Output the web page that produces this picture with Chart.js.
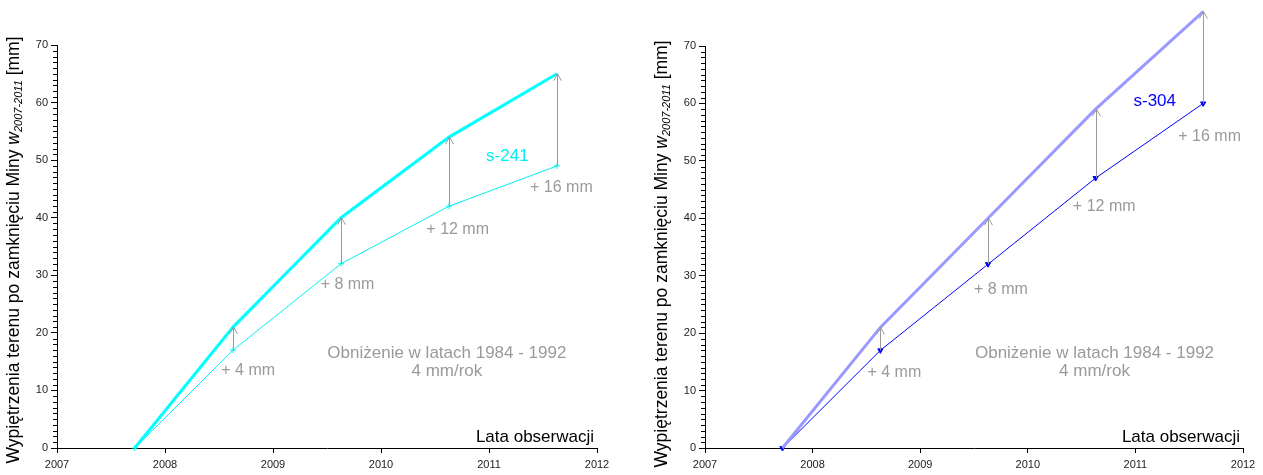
<!DOCTYPE html>
<html>
<head>
<meta charset="utf-8">
<script src="https://cdn.jsdelivr.net/npm/chart.js@4"></script>
<style>
  html, body { margin: 0; padding: 0; background: #fff; }
  #wrap { position: relative; width: 1263px; height: 475px; }
  canvas { position: absolute; top: 0; }
</style>
</head>
<body>
<div id="wrap">
  <canvas id="chart-s241" width="631" height="475" style="left:0"></canvas>
  <canvas id="chart-s304" width="632" height="475" style="left:631px"></canvas>
</div>
<script>
// observation dates (fractional years)
const obsYears = [2007.72, 2008.63, 2009.63, 2010.63, 2011.63];

// s-241: uplift incl. 4 mm/yr subsidence correction, and measured uplift
const s241Total = [0, 21, 40, 54, 65];
const s241Measured = [0, 17, 32, 42, 49];

// s-304
const s304Total = [0, 21, 40, 59, 76];
const s304Measured = [0, 17, 32, 47, 60];

const addedLabels = ['+ 4 mm', '+ 8 mm', '+ 12 mm', '+ 16 mm'];
const xTickYears = [2007, 2008, 2009, 2010, 2011, 2012];
const yMajorStep = 10;
const yMax = 70;

const FONT = '"Liberation Sans", Arial, sans-serif';
const GREY = '#9a9a9a';

function makeOverlay(cfg) {
  return {
    id: 'overlay',
    afterDraw(chart) {
      const ctx = chart.ctx;
      const xs = chart.scales.x;
      const ys = chart.scales.y;
      const area = chart.chartArea;
      ctx.save();

      // minor ticks on y axis
      ctx.strokeStyle = '#000';
      ctx.lineWidth = 1;
      for (let v = 1; v < yMax; v++) {
        if (v % yMajorStep === 0) continue;
        const py = Math.round(ys.getPixelForValue(v)) + 0.5;
        ctx.beginPath();
        ctx.moveTo(area.left - 4, py);
        ctx.lineTo(area.left, py);
        ctx.stroke();
      }

      // arrows from measured to total
      ctx.strokeStyle = GREY;
      for (let i = 1; i < obsYears.length; i++) {
        const px = Math.round(xs.getPixelForValue(obsYears[i])) + 0.5;
        const y0 = ys.getPixelForValue(cfg.measured[i]);
        const y1 = ys.getPixelForValue(cfg.total[i]);
        ctx.beginPath();
        ctx.moveTo(px, y0);
        ctx.lineTo(px, y1);
        ctx.moveTo(px - 4, y1 + 7);
        ctx.lineTo(px, y1);
        ctx.lineTo(px + 4, y1 + 7);
        ctx.stroke();
      }

      // "+ n mm" labels
      ctx.font = '16px ' + FONT;
      ctx.fillStyle = GREY;
      ctx.textAlign = 'center';
      ctx.textBaseline = 'middle';
      cfg.notePos.forEach((p, i) => {
        ctx.fillText(addedLabels[i], xs.getPixelForValue(p[0]), ys.getPixelForValue(p[1]));
      });

      // subsidence note
      ctx.font = '17px ' + FONT;
      const nx = xs.getPixelForValue(cfg.infoPos[0]);
      const ny = ys.getPixelForValue(cfg.infoPos[1]);
      ctx.fillText('Obniżenie w latach 1984 - 1992', nx, ny);
      ctx.fillText('4 mm/rok', nx, ny + 18);

      // series name
      ctx.font = '17px ' + FONT;
      ctx.fillStyle = cfg.nameColor;
      ctx.fillText(cfg.name, xs.getPixelForValue(cfg.namePos[0]), ys.getPixelForValue(cfg.namePos[1]));

      // x axis title inside plot
      ctx.font = '17px ' + FONT;
      ctx.fillStyle = '#000';
      ctx.textAlign = 'right';
      ctx.fillText('Lata obserwacji', area.right - 3, area.bottom - 11);

      // y axis title with subscript
      const parts = [
        { t: 'Wypiętrzenia terenu po zamknięciu Miny ', f: '17.5px ' + FONT, dy: 0 },
        { t: 'w', f: 'italic 17.5px ' + FONT, dy: 0 },
        { t: '2007-2011', f: 'italic 11px ' + FONT, dy: 5 },
        { t: ' [mm]', f: '17.5px ' + FONT, dy: 0 }
      ];
      let total = 0;
      parts.forEach(p => { ctx.font = p.f; p.w = ctx.measureText(p.t).width; total += p.w; });
      ctx.translate(area.left - 43, cfg.titleMid);
      ctx.rotate(-Math.PI / 2);
      ctx.textAlign = 'left';
      let cx = -total / 2;
      parts.forEach(p => {
        ctx.font = p.f;
        ctx.fillText(p.t, cx, p.dy);
        cx += p.w;
      });

      ctx.restore();
    }
  };
}

function buildChart(id, cfg) {
  const toPts = vals => vals.map((v, i) => ({ x: obsYears[i], y: v }));
  return new Chart(document.getElementById(id), {
    type: 'scatter',
    data: {
      datasets: [
        {
          data: toPts(cfg.total),
          showLine: true,
          borderColor: cfg.totalColor,
          borderWidth: 3,
          pointRadius: 0,
          clip: false
        },
        {
          data: toPts(cfg.measured),
          showLine: true,
          borderColor: cfg.measuredColor,
          backgroundColor: cfg.measuredColor,
          borderWidth: 1,
          pointStyle: cfg.pointStyle,
          pointRotation: cfg.pointRotation,
          pointRadius: 3,
          pointBorderWidth: 1,
          clip: false
        }
      ]
    },
    options: {
      responsive: false,
      animation: false,
      layout: { padding: { left: 0, right: cfg.padRight, top: cfg.padTop, bottom: 0 } },
      plugins: { legend: { display: false }, tooltip: { enabled: false } },
      scales: {
        x: {
          type: 'linear',
          min: xTickYears[0],
          max: xTickYears[xTickYears.length - 1],
          afterBuildTicks: s => { s.ticks = xTickYears.map(v => ({ value: v })); },
          afterFit: s => { s.height = 27; },
          ticks: {
            callback: v => String(v),
            color: '#222',
            font: { family: FONT, size: 11 },
            padding: 5,
            maxRotation: 0
          },
          grid: { drawOnChartArea: false, color: '#000', tickLength: 5 },
          border: { color: '#000', width: 1 }
        },
        y: {
          min: 0,
          max: yMax,
          afterFit: s => { s.width = cfg.yWidth; },
          ticks: {
            stepSize: yMajorStep,
            color: '#222',
            font: { family: FONT, size: 11 },
            padding: 3
          },
          grid: { drawOnChartArea: false, color: '#000', tickLength: 6 },
          border: { color: '#000', width: 1 }
        }
      }
    },
    plugins: [makeOverlay(cfg)]
  });
}

buildChart('chart-s241', {
  total: s241Total,
  measured: s241Measured,
  totalColor: '#00ffff',
  measuredColor: '#00f0f0',
  pointStyle: 'cross',
  pointRotation: 0,
  name: 's-241',
  nameColor: '#00f0f0',
  namePos: [2011.17, 50.7],
  notePos: [[2008.77, 13.4], [2009.69, 28.3], [2010.71, 38.0], [2011.67, 45.2]],
  infoPos: [2010.61, 16.5],
  yWidth: 57,
  padRight: 34,
  padTop: 45,
  titleMid: 250
});

buildChart('chart-s304', {
  total: s304Total,
  measured: s304Measured,
  totalColor: '#9999ff',
  measuredColor: '#0000ff',
  pointStyle: 'triangle',
  pointRotation: 180,
  name: 's-304',
  nameColor: '#0000ff',
  namePos: [2011.18, 60.4],
  notePos: [[2008.76, 13.2], [2009.75, 27.5], [2010.71, 42.0], [2011.69, 54.2]],
  infoPos: [2010.62, 16.5],
  yWidth: 74,
  padRight: 20,
  padTop: 46,
  titleMid: 254
});
</script>
</body>
</html>
